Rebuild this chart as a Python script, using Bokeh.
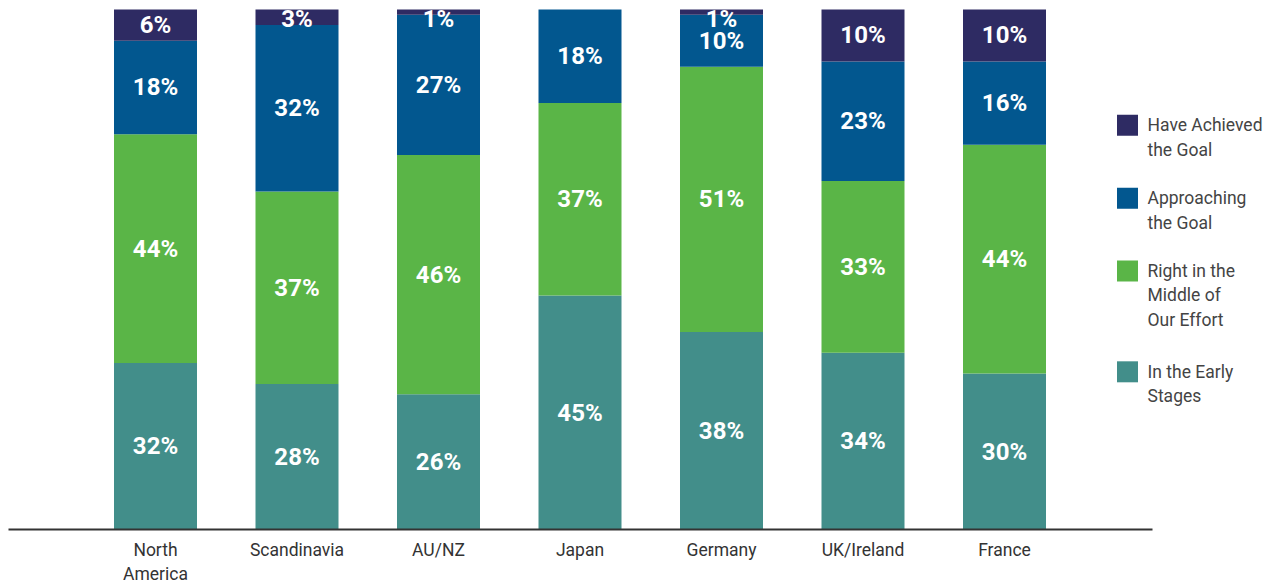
from bokeh.plotting import figure
from bokeh.models import ColumnDataSource, Range1d, FixedTicker
from bokeh.core.properties import value
from bokeh.embed import file_html
from bokeh.resources import INLINE

# ---- data ----
categories = ["North America", "Scandinavia", "AU/NZ", "Japan", "Germany", "UK/Ireland", "France"]
tick_labels = ["North\nAmerica", "Scandinavia", "AU/NZ", "Japan", "Germany", "UK/Ireland", "France"]
early = [32, 28, 26, 45, 38, 34, 30]
middle = [44, 37, 46, 37, 51, 33, 44]
approaching = [18, 32, 27, 18, 10, 23, 16]
achieved = [6, 3, 1, 0, 1, 10, 10]

series_names = ["In the Early\nStages", "Right in the\nMiddle of\nOur Effort",
                "Approaching\nthe Goal", "Have Achieved\nthe Goal"]
colors = ["#428e8a", "#5ab547", "#02578f", "#2e2b63"]

FONT = "Roboto"

# ---- layout (pixels) ----
W, H = 1272, 586
SX = 141.5            # px per category
X0 = -155 / SX        # data x at frame left (page x = 0)
SY = 5.21             # px per percent
BASE_PY = 530         # page y of value 0
FRAME_BOTTOM = 538
Y0 = -(FRAME_BOTTOM - BASE_PY) / SY
Y1 = BASE_PY / SY

p = figure(width=W, height=H, output_backend="svg", toolbar_location=None,
           x_range=Range1d(X0, X0 + W / SX), y_range=Range1d(Y0, Y1),
           y_axis_location=None, min_border_left=0, min_border_right=0,
           min_border_top=0, min_border_bottom=H - FRAME_BOTTOM)
p.outline_line_color = None
p.grid.visible = False
p.background_fill_color = "white"
p.border_fill_color = "white"

x = list(range(len(categories)))
keys = ["early", "middle", "approaching", "achieved"]
src = ColumnDataSource(dict(x=x, early=early, middle=middle,
                            approaching=approaching, achieved=achieved))
p.vbar_stack(keys, x="x", width=83 / SX, color=colors, line_color=None, source=src)

# segment labels
lx, ly, lt = [], [], []
series = [early, middle, approaching, achieved]
for i in x:
    base = 0
    for s in series:
        v = s[i]
        if v > 0:
            top = base + v
            yc = min(base + v / 2, top - 1.9)
            lx.append(i)
            ly.append(yc)
            lt.append(f"{v}%")
        base += v
p.text(x=lx, y=ly, text=lt, text_color="white", text_font=value(FONT),
       text_font_style="bold", text_font_size="24px",
       text_align="center", text_baseline="middle")


def dx(px):
    return X0 + px / SX


def dy(py):
    return (BASE_PY - py) / SY


# baseline
p.segment(x0=[dx(8)], y0=[0], x1=[dx(1152)], y1=[0],
          line_color="#333333", line_width=2)

# x axis
ax = p.xaxis[0]
ax.ticker = FixedTicker(ticks=x)
ax.major_label_overrides = {i: t for i, t in zip(x, tick_labels)}
ax.axis_line_color = None
ax.major_tick_line_color = None
ax.minor_tick_line_color = None
ax.major_tick_out = 0
ax.major_tick_in = 0
ax.major_label_standoff = 2
ax.major_label_text_font = FONT
ax.major_label_text_font_size = "17.5px"
ax.major_label_text_color = "#333333"

# legend (top to bottom)
leg_names = list(reversed(series_names))
leg_colors = list(reversed(colors))
leg_centers = [125, 198, 271, 372]
p.scatter(x=[dx(1127)] * 4, y=[dy(c) for c in leg_centers], marker="square",
          size=21, color=leg_colors, line_color=None)
p.text(x=[dx(1147)] * 4, y=[dy(c - 10) for c in leg_centers], text=leg_names,
       text_color="#444444", text_font=value(FONT), text_font_size="17.5px",
       text_align="left", text_baseline="top", text_line_height=1.22)

open("out.html", "w").write(file_html(p, INLINE))
